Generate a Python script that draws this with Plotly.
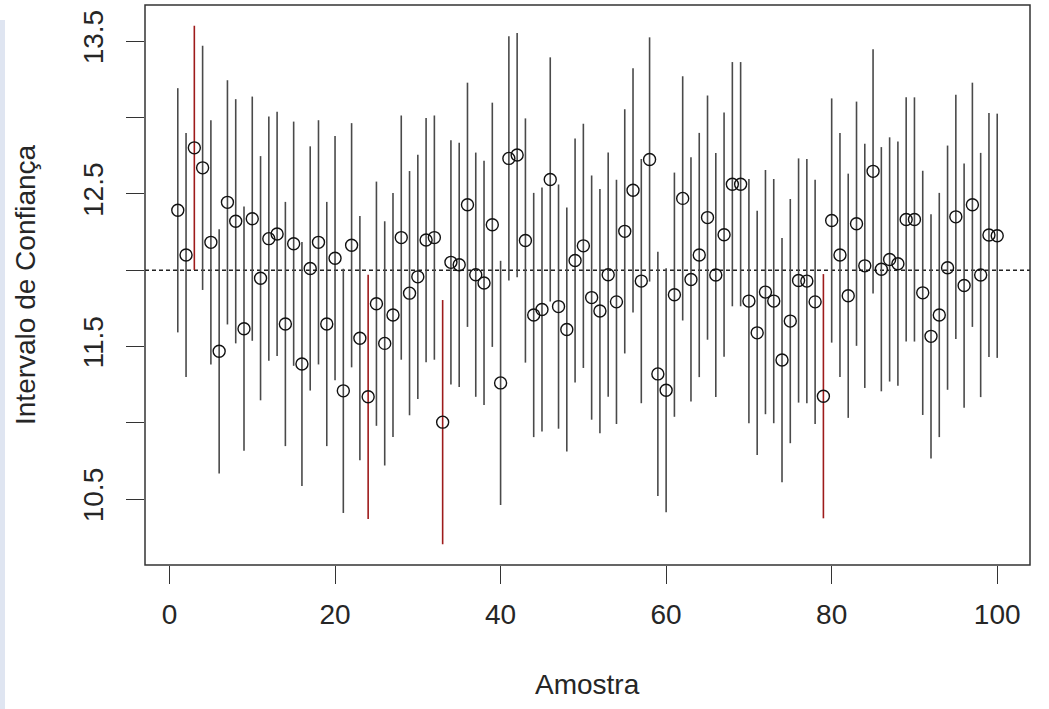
import plotly.graph_objects as go

# ---- data ----
amostra = list(range(1, 101))
medias = [
    12.393, 12.100, 12.802, 12.671, 12.183, 11.469, 12.445, 12.321, 11.617, 12.338,
    11.948, 12.207, 12.238, 11.648, 12.174, 11.386, 12.012, 12.183, 11.648, 12.079,
    11.210, 12.164, 11.555, 11.171, 11.781, 11.521, 11.707, 12.214, 11.850, 11.957,
    12.198, 12.214, 11.005, 12.052, 12.036, 12.429, 11.971, 11.917, 12.298, 11.262,
    12.733, 12.755, 12.195, 11.707, 11.743, 12.595, 11.762, 11.612, 12.064, 12.160,
    11.821, 11.733, 11.971, 11.793, 12.255, 12.524, 11.929, 12.726, 11.321, 11.214,
    11.840, 12.471, 11.940, 12.100, 12.345, 11.969, 12.233, 12.564, 12.564, 11.798,
    11.590, 11.857, 11.798, 11.412, 11.667, 11.933, 11.929, 11.793, 11.175, 12.326,
    12.100, 11.833, 12.305, 12.029, 12.648, 12.007, 12.071, 12.043, 12.333, 12.333,
    11.852, 11.567, 11.707, 12.017, 12.350, 11.900, 12.429, 11.969, 12.231, 12.226,
]
semi_amplitude = 0.80
mu = 12.0
x_ticks = [0, 20, 40, 60, 80, 100]
y_ticks = [10.5, 11.0, 11.5, 12.0, 12.5, 13.0, 13.5]
y_tick_text = ["10.5", "", "11.5", "", "12.5", "", "13.5"]

# ---- derived ----
inf = [m - semi_amplitude for m in medias]
sup = [m + semi_amplitude for m in medias]
cobre = [lo <= mu <= hi for lo, hi in zip(inf, sup)]

def seg(mask):
    xs, ys = [], []
    for i, ok in enumerate(mask):
        if ok:
            xs += [amostra[i], amostra[i], None]
            ys += [inf[i], sup[i], None]
    return xs, ys

xb, yb = seg(cobre)
xr, yr = seg([not c for c in cobre])

ylo, yhi = min(inf), max(sup)
ypad = 0.04 * (yhi - ylo)
xpad = 0.04 * (max(amostra) - min(amostra))

FONT = "Liberation Sans, Arial, Helvetica, sans-serif"
TXT = "#262626"

fig = go.Figure()
fig.add_trace(go.Scatter(x=xb, y=yb, mode="lines",
                         line=dict(color="#4a4a4a", width=1.6), hoverinfo="skip"))
fig.add_trace(go.Scatter(x=xr, y=yr, mode="lines",
                         line=dict(color="#9e1b1b", width=1.6), hoverinfo="skip"))
fig.add_trace(go.Scatter(x=amostra, y=medias, mode="markers",
                         marker=dict(symbol="circle-open", size=12,
                                     color="#111111", line=dict(width=1.4, color="#111111"))))

fig.update_layout(
    width=1049, height=709,
    margin=dict(l=145, r=19, t=5, b=144),
    paper_bgcolor="white", plot_bgcolor="white",
    showlegend=False,
    font=dict(family=FONT, size=28, color=TXT),
    shapes=[
        dict(type="line", xref="paper", yref="y", x0=0, x1=1, y0=mu, y1=mu,
             line=dict(color="#222222", width=1.4, dash="4px,3px"), layer="below"),
        dict(type="rect", xref="paper", yref="paper", x0=0, x1=1, y0=0, y1=1,
             line=dict(color="#333333", width=1.5)),
        dict(type="rect", xref="paper", yref="paper",
             x0=-145 / 885, x1=-140 / 885, y0=-144 / 560, y1=(565 - 20) / 560,
             line=dict(width=0), fillcolor="#dfe5f1", layer="below"),
    ],
    annotations=[
        dict(text="Amostra", xref="paper", yref="paper", x=0.5, y=(565 - 684) / 560,
             xanchor="center", yanchor="middle", showarrow=False,
             font=dict(family=FONT, size=28, color=TXT)),
        dict(text="Intervalo de Confiança", xref="paper", yref="paper",
             x=(25 - 145) / 885, y=0.5, textangle=-90,
             xanchor="center", yanchor="middle", showarrow=False,
             font=dict(family=FONT, size=28, color=TXT)),
    ],
)
fig.update_xaxes(range=[min(amostra) - xpad, max(amostra) + xpad],
                 tickvals=x_ticks, ticks="outside", ticklen=18, tickwidth=1.4,
                 tickcolor="#333333", showgrid=False, zeroline=False,
                 showline=False, tickfont=dict(size=28, color=TXT),
                 ticklabelstandoff=6)
fig.update_yaxes(range=[ylo - ypad, yhi + ypad],
                 tickvals=y_ticks, ticktext=y_tick_text, tickangle=-90,
                 ticks="outside", ticklen=18, tickwidth=1.4, tickcolor="#333333",
                 showgrid=False, zeroline=False, showline=False,
                 tickfont=dict(size=28, color=TXT), ticklabelstandoff=12)

fig.write_html("out.html")
